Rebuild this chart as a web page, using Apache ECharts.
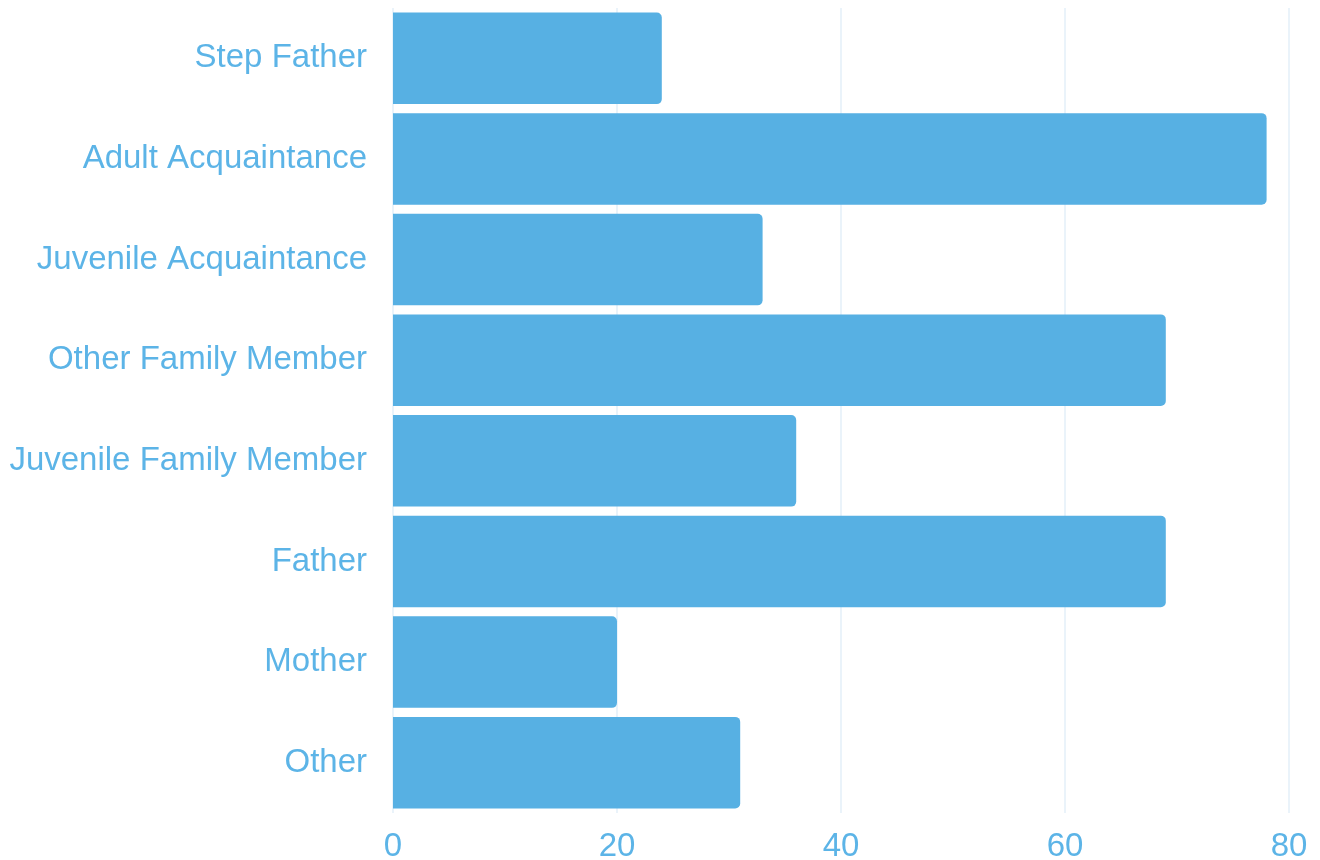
<!DOCTYPE html>
<html>
<head>
<meta charset="utf-8">
<script src="https://cdn.jsdelivr.net/npm/echarts@6/dist/echarts.min.js"></script>
<style>
  html, body { margin: 0; padding: 0; background: #fff; }
  #main { width: 1320px; height: 860px; }
</style>
</head>
<body>
<div id="main"></div>
<script>
// categories listed top to bottom
var categories = ['Step Father', 'Adult Acquaintance', 'Juvenile Acquaintance', 'Other Family Member',
  'Juvenile Family Member', 'Father', 'Mother', 'Other'];
var values = [24, 78, 33, 69, 36, 69, 20, 31];
var xTicks = [0, 20, 40, 60, 80];

var chart = echarts.init(document.getElementById('main'));
var labelColor = '#5cb4e7';

var option = {
  animation: false,
  grid: { left: 393, right: 31, top: 8, bottom: 47, outerBoundsMode: 'none' },
  xAxis: {
    type: 'value',
    min: xTicks[0],
    max: xTicks[xTicks.length - 1],
    interval: 20,
    axisLine: { show: false },
    axisTick: { show: false },
    axisLabel: {
      color: labelColor,
      fontSize: 33,
      fontFamily: 'Liberation Sans',
      margin: 17
    },
    splitLine: { lineStyle: { color: '#e3eff8', width: 1.5 } }
  },
  yAxis: {
    type: 'category',
    data: categories,
    inverse: true,
    axisLine: { show: false },
    axisTick: { show: false },
    axisLabel: {
      color: labelColor,
      fontSize: 33,
      fontFamily: 'Liberation Sans',
      margin: 26,
      padding: [10, 0, 0, 0]
    }
  },
  series: [{
    type: 'bar',
    data: values,
    barCategoryGap: '9%',
    itemStyle: { color: '#57b0e3', borderRadius: [0, 5, 5, 0] }
  }]
};
chart.setOption(option);
</script>
</body>
</html>
